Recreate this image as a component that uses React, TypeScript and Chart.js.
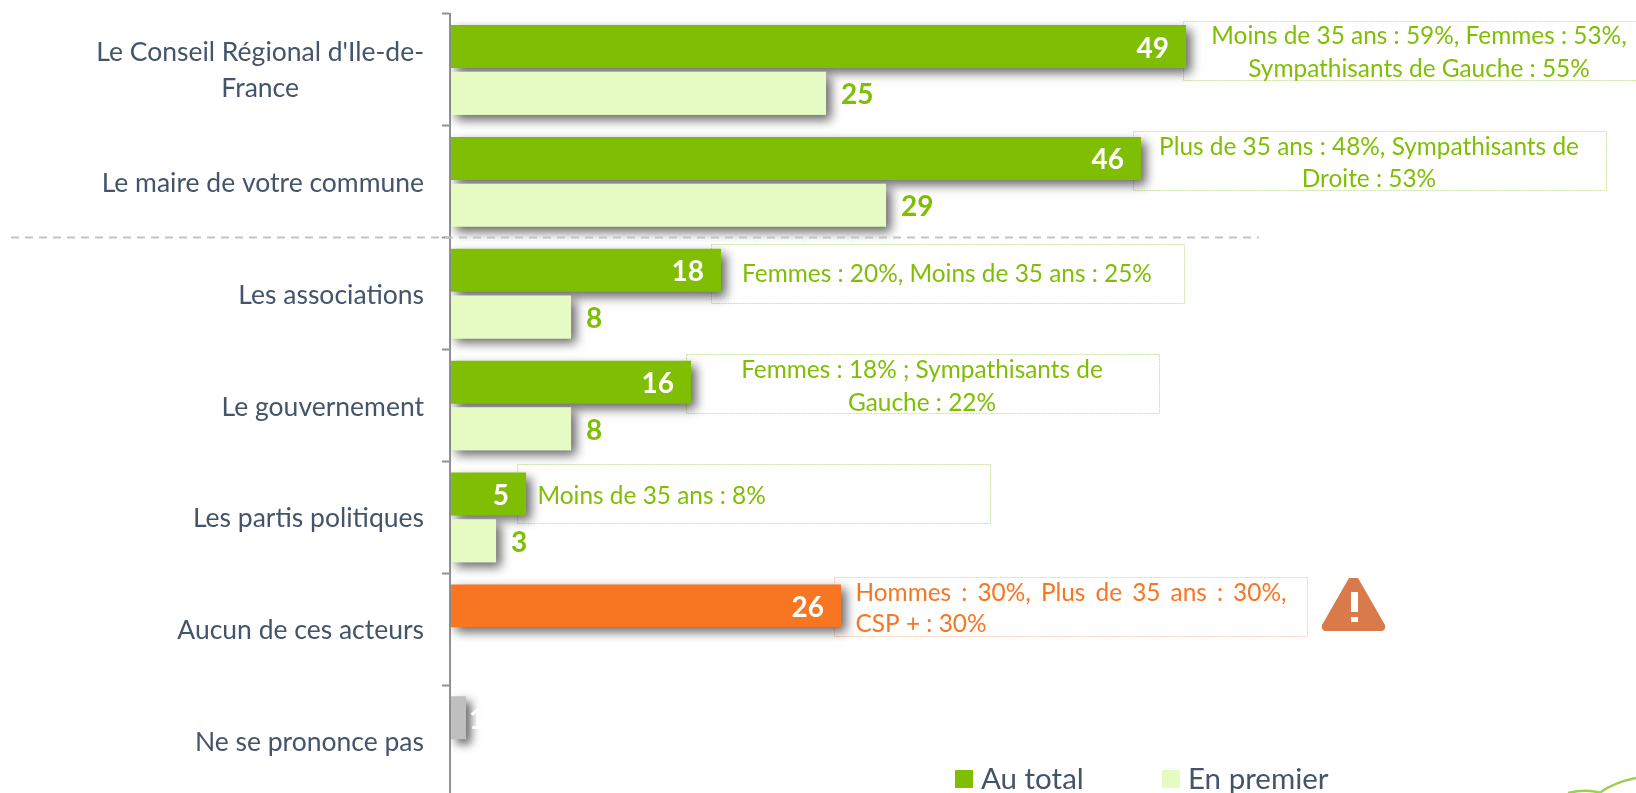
import React, { useEffect, useRef } from "react";
import { Chart, registerables } from "chart.js";

Chart.register(...registerables);

const categories: (string | string[])[] = [
  ["Le Conseil Régional d'Ile-de-", "France"],
  "Le maire de votre commune",
  "Les associations",
  "Le gouvernement",
  "Les partis politiques",
  "Aucun de ces acteurs",
  "Ne se prononce pas",
];
const totalValues = [49, 46, 18, 16, 5, 26, 1];
const firstValues = [25, 29, 8, 8, 3, null, null];
const seriesNames = ["Au total", "En premier"];

const calloutTexts = [
  ["Moins de 35 ans : 59%, Femmes : 53%,", "Sympathisants de Gauche : 55%"],
  ["Plus de 35 ans : 48%, Sympathisants de", "Droite : 53%"],
  ["Femmes : 20%, Moins de 35 ans : 25%"],
  ["Femmes : 18% ; Sympathisants de", "Gauche : 22%"],
  ["Moins de 35 ans : 8%"],
  ["Hommes : 30%, Plus de 35 ans : 30%,", "CSP + : 30%"],
];

const GREEN = "#7FBE03";
const LIGHT = "#E6FBC3";
const ORANGE = "#F87522";
const GREY = "#BFBFBF";
const TEXT = "#44546A";
const AXIS = "#8E9196";
const FONT = "Lato";

// layout of the annotations: not data
const calloutLayout = [
  { left: 1182.5, top: 20.5, align: "center", lines: [36, 69] },
  { left: 1132.5, top: 131, align: "center", lines: [147.5, 179] },
  { left: 710.5, top: 244, align: "center", lines: [274] },
  { left: 685.5, top: 354, align: "center", lines: [370, 403] },
  { left: 516.5, top: 464, align: "left", lines: [496] },
  { left: 834, top: 577, align: "justify", lines: [593, 624] },
];
const BOX_W = 473;
const BOX_H = 59;

const shadowPlugin = {
  id: "barShadow",
  beforeDatasetDraw(chart: any) {
    const c = chart.ctx;
    c.save();
    c.shadowColor = "rgba(0,0,0,0.6)";
    c.shadowBlur = 10;
    c.shadowOffsetX = 5;
    c.shadowOffsetY = 5;
  },
  afterDatasetDraw(chart: any) {
    chart.ctx.restore();
  },
};

const annotationPlugin = {
  id: "annotations",
  beforeDatasetsDraw(chart: any) {
    const c = chart.ctx;
    c.save();
    c.lineWidth = 1;
    c.setLineDash([2, 1]);
    calloutLayout.forEach((b, i) => {
      c.strokeStyle = i === 5 ? "#FBCDB0" : "#C6E59B";
      c.strokeRect(Math.round(b.left) + 0.5, Math.round(b.top) + 0.5, BOX_W, BOX_H);
    });
    c.restore();
  },
  afterDatasetsDraw(chart: any) {
    const c = chart.ctx;
    // the light bars sit above the shadow of the dark ones
    chart.getDatasetMeta(1).data.forEach((el: any, i: number) => {
      if (firstValues[i] != null) el.draw(c);
    });
    c.save();
    // value labels
    c.textBaseline = "middle";
    c.font = `bold 28px ${FONT}`;
    chart.getDatasetMeta(0).data.forEach((el: any, i: number) => {
      c.fillStyle = "#FFFFFF";
      if (totalValues[i] < 3) {
        c.textAlign = "left";
        c.fillText(String(totalValues[i]), el.x + 3, el.y + 2);
      } else {
        c.textAlign = "right";
        c.fillText(String(totalValues[i]), el.x - 17, el.y + 2);
      }
    });
    chart.getDatasetMeta(1).data.forEach((el: any, i: number) => {
      if (firstValues[i] == null) return;
      c.fillStyle = GREEN;
      c.textAlign = "left";
      c.fillText(String(firstValues[i]), el.x + 15, el.y + 2);
    });
    // callout text
    c.font = `24.4px ${FONT}`;
    calloutLayout.forEach((b, i) => {
      c.fillStyle = i === 5 ? ORANGE : GREEN;
      calloutTexts[i].forEach((line, j) => {
        const y = b.lines[j];
        if (b.align === "center") {
          c.textAlign = "center";
          c.fillText(line, b.left + BOX_W / 2, y);
        } else if (b.align === "left") {
          c.textAlign = "left";
          c.fillText(line, b.left + 21, y);
        } else {
          c.textAlign = "left";
          if (j === 0) {
            const w = c.measureText(line).width;
            const gaps = line.split(" ").length - 1;
            c.wordSpacing = `${Math.max(0, (431 - w) / gaps)}px`;
          } else {
            c.wordSpacing = "0px";
          }
          c.fillText(line, b.left + 21.5, y);
          c.wordSpacing = "0px";
        }
      });
    });
    c.restore();
  },
  afterDraw(chart: any) {
    const c = chart.ctx;
    const yScale = chart.scales.y;
    c.save();
    // category labels (multi-line ones are centred on their widest line)
    c.fillStyle = TEXT;
    c.font = `26.5px ${FONT}`;
    c.textBaseline = "middle";
    const RIGHT = 424;
    categories.forEach((label, i) => {
      const y = yScale.getPixelForTick(i);
      if (Array.isArray(label)) {
        const widest = Math.max(...label.map((l) => c.measureText(l).width));
        c.textAlign = "center";
        label.forEach((l, j) => {
          c.fillText(l, RIGHT - widest / 2, y + 1 + (j - (label.length - 1) / 2) * 36);
        });
      } else {
        c.textAlign = "right";
        c.fillText(label, RIGHT, y + 1.5);
      }
    });
    // dashed separator between the second and third categories
    const sepY = Math.round(yScale.getPixelForValue(1.5)) - 0.5;
    c.strokeStyle = "#C4C4C4";
    c.lineWidth = 2;
    c.setLineDash([8, 6]);
    c.beginPath();
    c.moveTo(11, sepY);
    c.lineTo(1259, sepY);
    c.stroke();
    c.setLineDash([]);
    // warning icon
    c.fillStyle = "#D97A4A";
    c.beginPath();
    c.moveTo(1349, 578);
    c.lineTo(1358, 578);
    c.lineTo(1385, 625);
    c.quadraticCurveTo(1386, 631, 1381, 631);
    c.lineTo(1326, 631);
    c.quadraticCurveTo(1321, 631, 1322, 625);
    c.closePath();
    c.fill();
    c.fillStyle = "#FFFFFF";
    c.fillRect(1351, 592, 7, 20);
    c.fillRect(1351, 617, 7, 5);
    // legend
    const legendColors = [GREEN, LIGHT];
    const legendX = [955, 1162];
    c.font = `29.5px ${FONT}`;
    c.textAlign = "left";
    seriesNames.forEach((name, i) => {
      c.fillStyle = legendColors[i];
      c.fillRect(legendX[i], 770, 18, 18);
      c.fillStyle = TEXT;
      c.fillText(name, legendX[i] + 26, 779);
    });
    // logo fragment, bottom-right corner
    c.strokeStyle = "#9BD04F";
    c.lineWidth = 2.5;
    c.beginPath();
    c.moveTo(1568, 793);
    c.quadraticCurveTo(1585, 789, 1600, 792.5);
    c.moveTo(1600, 792.5);
    c.quadraticCurveTo(1615, 782, 1636, 778);
    c.stroke();
    c.restore();
  },
};

export default function App() {
  const ref = useRef<HTMLCanvasElement | null>(null);
  useEffect(() => {
    if (!ref.current) return;
    const totalColors = totalValues.map((_, i) => (i === 5 ? ORANGE : i === 6 ? GREY : GREEN));
    const chart = new Chart(ref.current, {
      type: "bar",
      data: {
        labels: categories as any,
        datasets: [
          { label: seriesNames[0], data: totalValues, backgroundColor: totalColors },
          { label: seriesNames[1], data: firstValues as any, backgroundColor: LIGHT },
        ],
      },
      options: {
        indexAxis: "y",
        responsive: false,
        animation: false,
        layout: { padding: { top: 14, bottom: 3, left: 0, right: 0 } },
        datasets: { bar: { categoryPercentage: 0.835, barPercentage: 0.92 } },
        plugins: { legend: { display: false }, tooltip: { enabled: false } },
        scales: {
          x: { display: false, min: -0.07, max: 79, grid: { display: false } },
          y: {
            afterFit(scale: any) {
              scale.width = 450;
            },
            ticks: { display: false },
            border: { display: true, color: AXIS, width: 2 },
            grid: {
              drawOnChartArea: false,
              drawTicks: true,
              tickLength: 8,
              tickWidth: 2,
              tickColor: AXIS,
            },
          },
        },
      } as any,
      plugins: [shadowPlugin, annotationPlugin],
    });
    return () => chart.destroy();
  }, []);
  return (
    <div style={{ position: "absolute", left: 0, top: 0, width: 1636, height: 793, overflow: "hidden", background: "#fff" }}>
      <canvas ref={ref} width={1636} height={800} style={{ display: "block" }} />
    </div>
  );
}
